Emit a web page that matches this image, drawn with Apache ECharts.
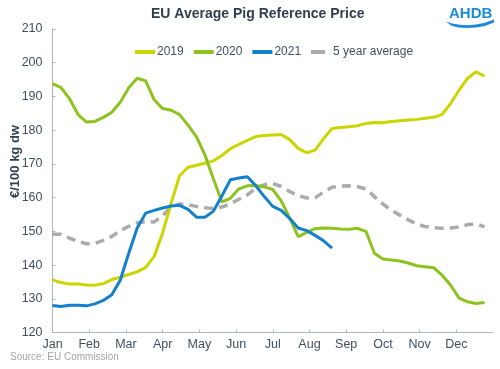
<!DOCTYPE html>
<html>
<head>
<meta charset="utf-8">
<script src="https://cdn.jsdelivr.net/npm/echarts@6/dist/echarts.min.js"></script>
<style>
html,body{margin:0;padding:0;background:#fff;}
#chart{width:500px;height:369px;}
</style>
</head>
<body>
<div id="chart"></div>
<script>
// ---- data (weekly values, week 0 = first week of January) ----
var months = ['Jan','Feb','Mar','Apr','May','Jun','Jul','Aug','Sep','Oct','Nov','Dec'];
var yTicks = [120,130,140,150,160,170,180,190,200,210];

var y2019 = [135.6,134.8,134.4,134.4,134.1,134.0,134.5,135.7,136.4,137.2,138.0,139.3,142.5,149.5,158.3,166.5,169.0,169.6,170.2,170.9,172.5,174.5,175.8,177.0,178.1,178.4,178.6,178.7,177.2,174.6,173.3,174.1,177.5,180.5,180.8,181.0,181.3,182.0,182.3,182.2,182.6,182.8,183.0,183.2,183.5,183.8,184.7,187.9,191.9,195.4,197.3,196.0];
var y2020 = [193.8,192.6,189.4,184.7,182.4,182.6,183.8,185.3,188.3,192.6,195.4,194.6,189.0,186.4,185.9,184.6,181.5,178.0,172.6,165.5,158.7,159.8,162.6,163.5,163.6,163.2,162.4,159.0,154.0,148.4,149.7,150.8,151.0,150.9,150.7,150.6,150.9,150.0,143.5,141.8,141.5,141.2,140.6,139.8,139.5,139.2,137.0,134.0,130.2,129.1,128.6,128.9];
var y2021 = [128.0,127.7,128.1,128.1,127.9,128.5,129.5,131.2,135.5,143.5,151.0,155.4,156.2,156.9,157.5,157.7,156.5,154.2,154.2,156.0,160.5,165.3,165.8,166.2,163.5,160.3,157.4,156.2,153.8,151.0,150.2,148.8,147.2,145.0];
var yAvg = [149.1,149.1,148.0,147.0,146.3,146.4,147.3,148.5,150.2,151.5,152.5,152.9,152.8,154.6,157.3,158.1,157.9,157.4,157.0,156.8,157.2,158.2,159.5,160.8,162.8,163.8,164.2,163.3,161.8,160.6,159.9,160.0,161.6,163.1,163.4,163.5,163.2,162.6,160.3,158.1,156.2,154.8,153.4,152.2,151.4,151.1,150.9,151.0,151.3,152.0,152.2,151.3];

var WEEKS = 52;
function toPairs(arr){ return arr.map(function(v,i){ return [i, v]; }); }
var monthPos = months.map(function(m,i){ return i*WEEKS/12; });

var FONT = 'Liberation Sans, Arial, sans-serif';
var TXT = '#3F4F5E';
var AXIS = '#A8B7C3';
var C19 = '#CBD500', C20 = '#8DC21F', C21 = '#1380CC', CAV = '#ABABAB';
var LOGO = '#1E8AD6';

var chart = echarts.init(document.getElementById('chart'), null, {renderer:'canvas'});
chart.setOption({
  animation:false,
  backgroundColor:'#fff',
  textStyle:{fontFamily:FONT},
  title:{
    text:'EU Average Pig Reference Price',
    left:146, top:2,
    textStyle:{fontFamily:FONT,fontSize:14,fontWeight:'bold',color:'#2F3F4D'}
  },
  legend:{
    left:128, top:41,
    itemWidth:20, itemHeight:10, itemGap:8,
    itemStyle:{opacity:0},
    lineStyle:{width:4},
    textStyle:{fontFamily:FONT,fontSize:12,color:TXT,padding:[0,0,0,-3]},
    data:[
      {name:'2019'},
      {name:'2020'},
      {name:'2021'},
      {name:'5 year average', lineStyle:{type:[14,12],width:4}}
    ]
  },
  grid:{left:52.5, right:7, top:29, bottom:36.5},
  xAxis:{
    type:'value', min:0, max:WEEKS,
    axisLine:{show:true,lineStyle:{color:AXIS,width:1}},
    axisTick:{show:true,inside:true,length:3,lineStyle:{color:AXIS},customValues:monthPos},
    axisLabel:{
      customValues:monthPos,
      color:TXT,fontFamily:FONT,fontSize:12.5,margin:6,
      formatter:function(v){ var i=Math.round(v*12/WEEKS); return months[i]||''; }
    },
    splitLine:{show:false}
  },
  yAxis:{
    type:'value', min:yTicks[0], max:yTicks[yTicks.length-1], interval:10,
    axisLine:{show:true,lineStyle:{color:AXIS,width:1}},
    axisTick:{show:true,inside:true,length:3,lineStyle:{color:AXIS}},
    axisLabel:{color:TXT,fontFamily:FONT,fontSize:12.5,margin:10},
    splitLine:{show:false}
  },
  series:[
    {name:'2019',type:'line',data:toPairs(y2019),symbol:'none',color:C19,lineStyle:{width:3,color:C19},z:3},
    {name:'2020',type:'line',data:toPairs(y2020),symbol:'none',color:C20,lineStyle:{width:3,color:C20},z:4},
    {name:'2021',type:'line',data:toPairs(y2021),symbol:'none',color:C21,lineStyle:{width:3,color:C21},z:5},
    {name:'5 year average',type:'line',data:toPairs(yAvg),symbol:'none',color:CAV,lineStyle:{width:3.5,color:CAV,type:[9,6]},z:2}
  ],
  graphic:[
    {type:'text',x:15,y:198,rotation:Math.PI/2,
      style:{text:'€/100 kg dw',fontFamily:FONT,fontSize:13,fontWeight:'bold',fill:'#2F3F4D',textVerticalAlign:'middle'},
      silent:true},
    {type:'text',left:10,top:352,
      style:{text:'Source: EU Commission',fontFamily:FONT,fontSize:10,fill:'#A3A3A3'}},
    {type:'text',left:449,top:6,
      style:{text:'AHDB',fontFamily:FONT,fontSize:15,fontWeight:'bold',fill:LOGO}},
    {type:'polygon',
      shape:{points:[[446,21.5],[452,23.5],[460,24.8],[468,25.2],[476,24.6],[484,23],[494,19.5],[494,22.5],[485,26],[476,27.6],[467,28],[458,27.4],[451,25.6]]},
      style:{fill:LOGO}}
  ]
});
</script>
</body>
</html>
